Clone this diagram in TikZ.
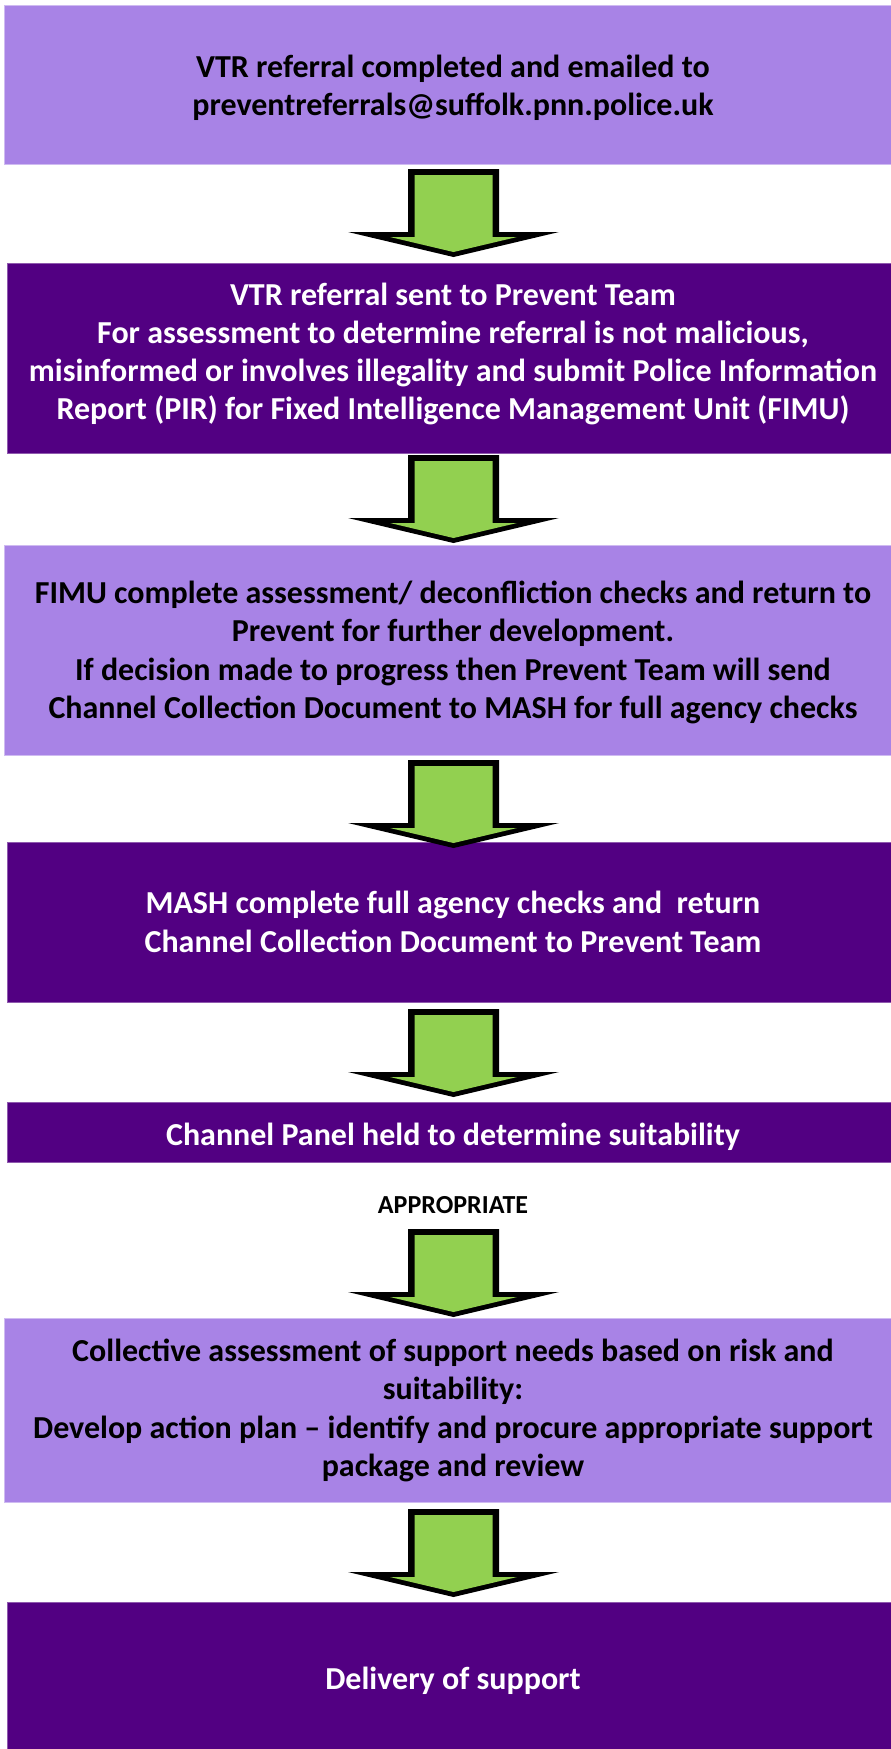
\documentclass[tikz,border=0pt]{standalone}
\usepackage{fontspec}
\setmainfont{Carlito}
\definecolor{lightpurple}{HTML}{A883E6}
\definecolor{darkpurple}{HTML}{520082}
\definecolor{arrowgreen}{HTML}{92D050}
\tikzset{
  lightbox/.style={fill=lightpurple, draw=lightpurple!55!white, line width=1pt, anchor=north west, inner sep=0pt, minimum width=900pt},
  darkbox/.style={fill=darkpurple, draw=darkpurple!65!white, line width=1pt, anchor=north west, inner sep=0pt, minimum width=900pt},
  boxtext/.style={anchor=base, inner sep=0pt, font=\fontsize{32}{38.5}\selectfont\bfseries},
  darktext/.style={boxtext, text=white},
  blockarrow/.pic={
    \fill[black] (-45.5,0) -- (45.5,0) -- (45.5,63) -- (105.5,63) -- (0,88) -- (-105.5,63) -- (-45.5,63) -- cycle;
    \fill[arrowgreen] (-39,6) -- (39,6) -- (39,68) -- (63.5,68) -- (0,83) -- (-63.5,68) -- (-39,68) -- cycle;
  }
}
\begin{document}
\begin{tikzpicture}[x=1pt, y=-1pt]
\useasboundingbox (0,0) rectangle (891,1749);
% boxes
\node (b1) [lightbox, minimum height=159pt] at (4,5) {};
\node (b2) [darkbox, minimum height=190pt] at (7,263) {};
\node (b3) [lightbox, minimum height=210pt] at (4,545) {};
\node (b4) [darkbox, minimum height=160pt] at (7,842) {};
\node (b5) [darkbox, minimum height=60pt] at (7,1102) {};
\node (b6) [lightbox, minimum height=184pt] at (4,1318) {};
\node (b7) [darkbox, minimum height=160pt] at (7,1602) {};
% texts
\node (t1) [boxtext] at (453,77) {\begin{tabular}[t]{@{}c@{}}VTR referral completed and emailed to\\ preventreferrals@suffolk.pnn.police.uk\end{tabular}};
\node (t2) [darktext, font=\fontsize{32}{38}\selectfont\bfseries] at (453,305) {\begin{tabular}[t]{@{}c@{}}VTR referral sent to Prevent Team\\ For assessment to determine referral is not malicious,\\ misinformed or involves illegality and submit Police Information\\ Report (PIR) for Fixed Intelligence Management Unit (FIMU)\end{tabular}};
\node (t3) [boxtext] at (453,603) {\begin{tabular}[t]{@{}c@{}}FIMU complete assessment/ deconfliction checks and return to\\ Prevent for further development.\\ If decision made to progress then Prevent Team will send\\ Channel Collection Document to MASH for full agency checks\end{tabular}};
\node (t4) [darktext, font=\fontsize{32}{39.5}\selectfont\bfseries] at (453,913) {\begin{tabular}[t]{@{}c@{}}MASH complete full agency checks and~ return\\ Channel Collection Document to Prevent Team\end{tabular}};
\node (t5) [darktext] at (453,1145) {Channel Panel held to determine suitability};
\node (lab) [boxtext, font=\fontsize{26}{30}\selectfont\bfseries] at (453,1213) {APPROPRIATE};
\node (t6) [boxtext] at (453,1361) {\begin{tabular}[t]{@{}c@{}}Collective assessment of support needs based on risk and\\ suitability:\\ Develop action plan -- identify and procure appropriate support\\ package and review\end{tabular}};
\node (t7) [darktext] at (453,1689) {Delivery of support};
% arrows
\pic (a1) at (453.5,169) {blockarrow};
\pic (a2) at (453.5,455) {blockarrow};
\pic (a3) at (453.5,760) {blockarrow};
\pic (a4) at (453.5,1009) {blockarrow};
\pic (a5) at (453.5,1229) {blockarrow};
\pic (a6) at (453.5,1509) {blockarrow};
\end{tikzpicture}
\end{document}
